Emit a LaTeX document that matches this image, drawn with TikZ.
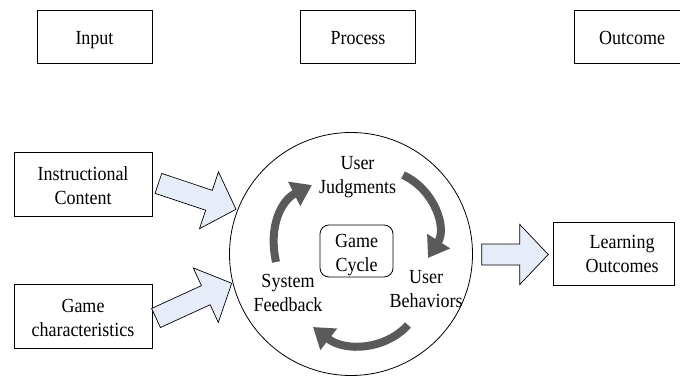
\documentclass[tikz,border=0pt]{standalone}
\usepackage{fontspec}
\setmainfont{Liberation Serif}[FakeStretch=0.9]
\usetikzlibrary{arrows.meta,calc}
\definecolor{arrowfill}{RGB}{230,237,248}
\definecolor{cyclegray}{RGB}{90,90,90}

% Broad outlined arrow from a tail point to a tip point
% #1 tail, #2 tip, #3 prefix for the helper coordinate
\newcommand{\arrowblock}[3]{%
  \coordinate (#3b) at ($(#2)!28.5pt!(#1)$);
  \draw[blockarrow]
    ($(#1)!10.5pt!90:(#2)$) -- ($(#3b)!10.5pt!90:(#2)$) --
    ($(#3b)!30pt!90:(#2)$) -- (#2) --
    ($(#3b)!30pt!-90:(#2)$) -- ($(#3b)!10.5pt!-90:(#2)$) --
    ($(#1)!10.5pt!-90:(#2)$) -- cycle;}

\begin{document}
\begin{tikzpicture}[x=1pt,y=-1pt,
  every node/.style={font=\fontsize{20}{24}\selectfont, align=center, inner sep=0pt,
    text height=16.2pt, text depth=0pt},
  twoline/.style={text height=40.2pt},
  headbox/.style={draw, line width=0.9pt, minimum width=115pt, minimum height=53pt},
  inbox/.style={draw, twoline, line width=0.9pt, minimum width=138pt, minimum height=64pt},
  cyclearrow/.style={draw=cyclegray, line width=8pt, -{Triangle[width=26pt,length=20pt]}},
  blockarrow/.style={draw, fill=arrowfill, line width=0.7pt, line join=miter}]
\useasboundingbox (0,0) rectangle (680,377);

% column headings
\node[headbox] (input) at (94.5,36.5) {Input};
\node[headbox] (process) at (358,36.5) {Process};
\node[headbox] (outcome) at (632,36.5) {Outcome};

% inputs and outcome
\node[inbox] (content) at (83,184) {Instructional\\Content};
\node[inbox] (traits) at (83,316.5) {Game\\characteristics};
\node[draw, line width=0.9pt, minimum width=121pt, minimum height=63pt] (learn) at (614,253.5) {};
\node[twoline] (learntext) at (622,252) {Learning\\Outcomes};

% process circle and its game cycle
\node[draw, circle, line width=0.8pt, minimum size=243pt] (cycle) at (351,254) {};
\node[draw, twoline, rounded corners=9pt, line width=0.8pt, minimum width=73pt, minimum height=52pt] (core) at (356.5,251) {Game\\Cycle};
\node[twoline] (judge) at (357.5,173.5) {User\\Judgments};
\node[twoline] (behave) at (426,287) {User\\Behaviors};
\node[twoline] (feedback) at (288,291) {System\\Feedback};

% block arrows into and out of the cycle
\coordinate (a1t) at (158.4,183.4); \coordinate (a1p) at (236,209.3);
\coordinate (a2t) at (156,318);     \coordinate (a2p) at (231.7,283.3);
\coordinate (a3t) at (481.7,254.5); \coordinate (a3p) at (548.3,254.5);
\arrowblock{a1t}{a1p}{a1}
\arrowblock{a2t}{a2p}{a2}
\arrowblock{a3t}{a3p}{a3}

% curved arrows of the cycle
\coordinate (fbOut) at (276,262);   \coordinate (jdIn) at (312,185);
\coordinate (jdOut) at (403,175);   \coordinate (bhIn) at (428,258);
\coordinate (bhOut) at (408,325);   \coordinate (fbIn) at (313,327);
\draw[cyclearrow] (fbOut) .. controls (268,225) and (282,200) .. (jdIn);
\draw[cyclearrow] (jdOut) .. controls (435,190) and (447,228) .. (bhIn);
\draw[cyclearrow] (bhOut) .. controls (385,350) and (345,352) .. (fbIn);
\end{tikzpicture}
\end{document}
